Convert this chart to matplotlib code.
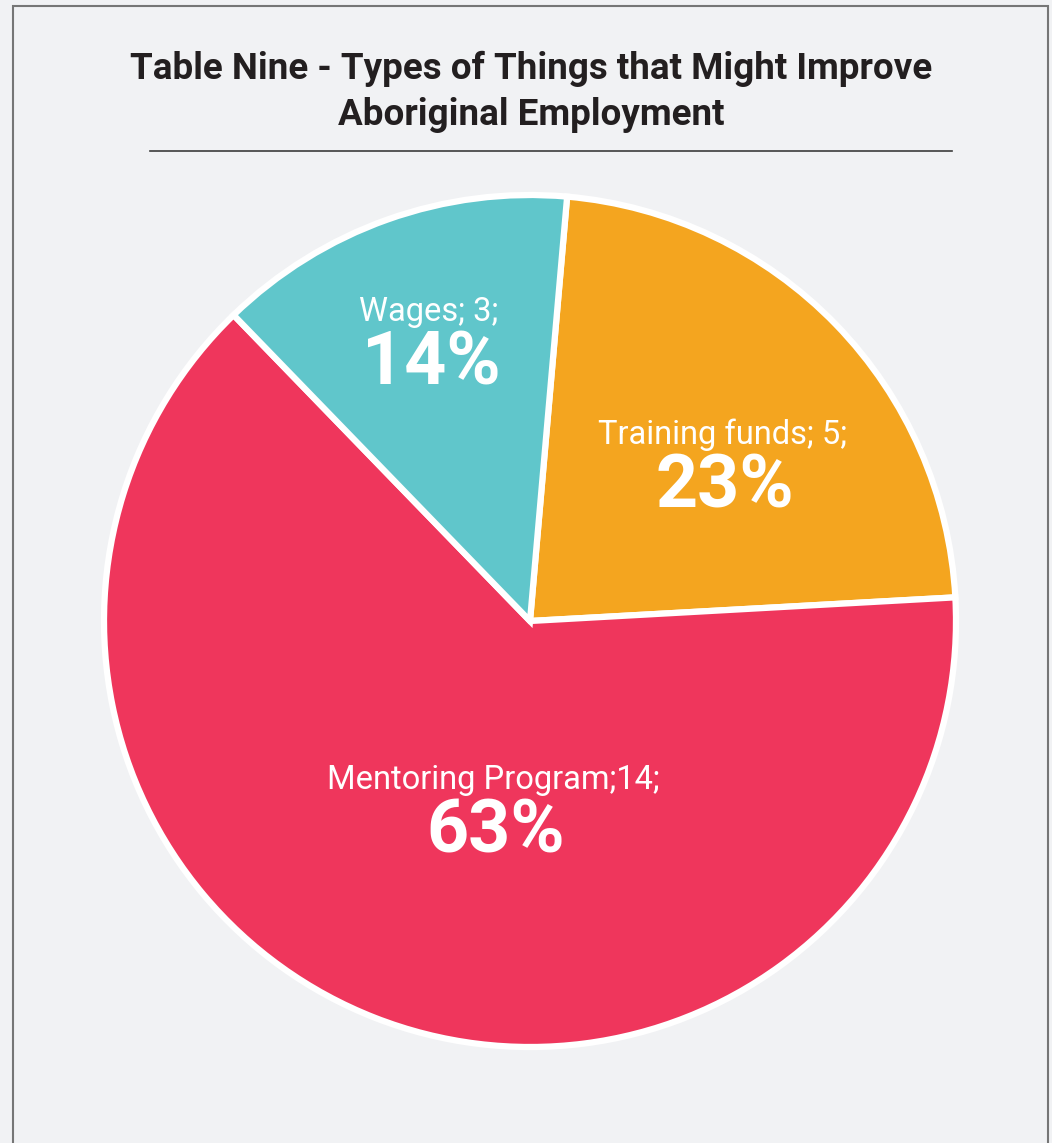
import numpy as np
import matplotlib.pyplot as plt
from matplotlib.patches import Rectangle
from matplotlib.lines import Line2D

# Data
labels = ['Training funds', 'Mentoring Program', 'Wages']
counts = [5, 14, 3]
percents = [23, 63, 14]
label_text = ['Training funds; 5;', 'Mentoring Program;14;', 'Wages; 3;']
colors = ['#F4A51F', '#EF365C', '#60C6CB']

# label placement (fraction of radius, angle shift in degrees)
label_r = [0.59, 0.44, 0.71]
label_shift = [-4, 10, 0]

bg = '#F1F2F4'
plt.rcParams['font.family'] = ['Roboto', 'DejaVu Sans']

fig = plt.figure(figsize=(10.52, 11.43), dpi=100, facecolor=bg)

# frame around the chart (open at the bottom)
fig.patches.append(Rectangle((13 / 1052, -0.05), (1048 - 13) / 1052, 1.05 - 6 / 1143,
                             transform=fig.transFigure, fill=False,
                             edgecolor='#767676', linewidth=1.5))

fig.text(0.505, 1 - 92 / 1143, 'Table Nine - Types of Things that Might Improve\nAboriginal Employment',
         ha='center', va='center', fontsize=26.5, fontweight='bold', color='#231F20',
         linespacing=1.35)
fig.add_artist(Line2D([150 / 1052, 952 / 1052], [1 - 151 / 1143, 1 - 151 / 1143],
                      transform=fig.transFigure, color='#3c3c3c', linewidth=1.2))

ax = fig.add_axes([(530 - 426) / 1052, (1143 - 621 - 426) / 1143, 852 / 1052, 852 / 1143])
ax.set_facecolor(bg)
wedges, _ = ax.pie(counts, colors=colors, startangle=85, counterclock=False, radius=1.0,
                   wedgeprops=dict(edgecolor='white', linewidth=4.5))
ax.set_xlim(-1.0, 1.0)
ax.set_ylim(-1.0, 1.0)
ax.set_aspect('equal')
ax.axis('off')

for w, txt, p, r, s in zip(wedges, label_text, percents, label_r, label_shift):
    ang = np.deg2rad((w.theta1 + w.theta2) / 2 + s)
    x, y = r * np.cos(ang), r * np.sin(ang)
    ax.text(x, y + 0.057, txt, ha='center', va='center', fontsize=23.5, color='white')
    ax.text(x + 0.005, y - 0.066, f'{p}%', ha='center', va='center',
            fontsize=53, fontweight='bold', color='white')

fig.savefig('out.png', dpi=100, facecolor=bg)
